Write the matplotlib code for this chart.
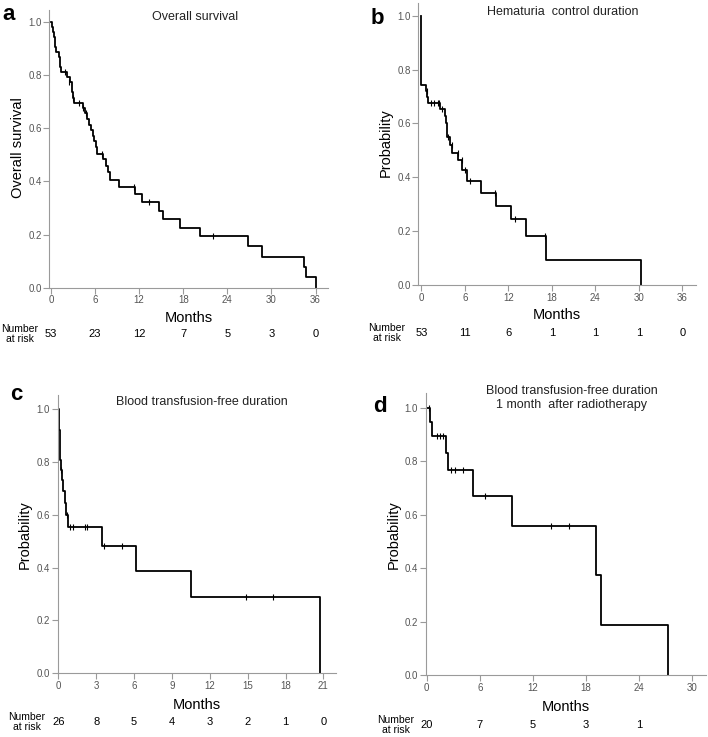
import matplotlib
matplotlib.use("Agg")
import matplotlib.pyplot as plt
import matplotlib.transforms as mtransforms

plt.rcParams["font.family"] = ["Liberation Sans", "DejaVu Sans"]

W, H = 708, 737

# ---- panel a: overall survival ----
a_times = [0.2, 0.3, 0.4, 0.5, 0.6, 0.65, 1.1, 1.2, 1.25, 1.3, 2.2, 2.6, 2.8, 2.9, 3.0, 3.1,
           4.3, 4.6, 4.9, 5.2, 5.5, 5.7, 5.8, 6.1, 6.3, 7.1, 7.5, 7.8, 8.0, 9.2, 11.4, 12.4,
           14.7, 15.3, 17.6, 20.3, 26.8, 28.7, 34.4, 34.7, 36.0]
a_surv = [0.981, 0.962, 0.943, 0.925, 0.906, 0.887, 0.868, 0.849, 0.830, 0.811, 0.792, 0.773,
          0.754, 0.735, 0.715, 0.695, 0.675, 0.655, 0.634, 0.613, 0.592, 0.571, 0.550, 0.529,
          0.504, 0.482, 0.458, 0.435, 0.405, 0.380, 0.352, 0.322, 0.290, 0.258, 0.225, 0.193,
          0.155, 0.116, 0.077, 0.039, 0.0]
a_cens_t = [1.95, 2.45, 3.05, 3.75, 4.3, 4.7, 6.9, 11.3, 13.3, 22.1]
a_cens_s = [0.811, 0.773, 0.715, 0.695, 0.675, 0.655, 0.504, 0.380, 0.322, 0.193]
a_risk = [53, 23, 12, 7, 5, 3, 0]
a_ticks = [0, 6, 12, 18, 24, 30, 36]

# ---- panel b: hematuria control duration ----
b_times = [0.0, 0.7, 0.85, 0.95, 2.6, 3.3, 3.4, 3.5, 3.6, 4.0, 4.3, 5.1, 5.6, 6.3, 8.3,
           10.3, 12.4, 14.4, 17.2, 30.3]
b_surv = [0.743, 0.720, 0.698, 0.677, 0.652, 0.627, 0.601, 0.576, 0.551, 0.520, 0.490,
          0.464, 0.427, 0.387, 0.343, 0.293, 0.245, 0.183, 0.092, 0.0]
b_cens_t = [0.75, 1.4, 1.8, 2.3, 2.5, 2.8, 3.7, 4.2, 5.1, 5.6, 6.0, 6.7, 10.2, 12.9, 17.0]
b_cens_s = [0.720, 0.677, 0.677, 0.677, 0.677, 0.652, 0.551, 0.520, 0.490, 0.464, 0.427,
            0.387, 0.343, 0.245, 0.183]
b_risk = [53, 11, 6, 1, 1, 1, 0]
b_ticks = [0, 6, 12, 18, 24, 30, 36]

# ---- panel c: blood transfusion-free duration ----
c_times = [0.05, 0.08, 0.1, 0.12, 0.15, 0.2, 0.3, 0.4, 0.5, 0.6, 0.75, 3.45, 6.15, 10.55, 20.7]
c_surv = [0.962, 0.923, 0.885, 0.846, 0.808, 0.769, 0.731, 0.692, 0.645, 0.600, 0.553,
          0.484, 0.387, 0.290, 0.0]
c_cens_t = [0.22, 0.65, 0.9, 1.2, 2.1, 2.3, 3.65, 5.05, 14.9, 17.0]
c_cens_s = [0.769, 0.600, 0.553, 0.553, 0.553, 0.553, 0.484, 0.484, 0.290, 0.290]
c_risk = [26, 8, 5, 4, 3, 2, 1, 0]
c_ticks = [0, 3, 6, 9, 12, 15, 18, 21]

# ---- panel d: transfusion-free 1 month after RT ----
d_times = [0.4, 0.65, 2.15, 2.45, 5.25, 9.6, 19.1, 19.7, 27.25]
d_surv = [0.947, 0.895, 0.830, 0.767, 0.670, 0.559, 0.373, 0.187, 0.0]
d_cens_t = [0.3, 1.2, 1.5, 1.8, 2.7, 3.2, 4.1, 6.6, 14.0, 16.1]
d_cens_s = [1.0, 0.895, 0.895, 0.895, 0.767, 0.767, 0.767, 0.670, 0.559, 0.559]
d_risk = [20, 7, 5, 3, 1]
d_ticks = [0, 6, 12, 18, 24, 30]

yticks = [0.0, 0.2, 0.4, 0.6, 0.8, 1.0]

fig = plt.figure(figsize=(W / 100, H / 100), dpi=100)


def fy(py):
    return 1 - py / H


def panel(box, xlim, ylim, times, surv, ct, cs, ticks, risk, letter, letter_xy,
          title, title_xy, ylabel, ylabel_xy, months_y, risk_y, risk_label_x):
    l, t, r, b = box
    ax = fig.add_axes([l / W, fy(b), (r - l) / W, (b - t) / H])
    ax.step([0] + times, [1.0] + surv, where="post", color="black", lw=1.3)
    ax.plot(ct, cs, ls="none", marker="|", ms=5, mew=0.8, color="black")
    ax.set_xlim(*xlim)
    ax.set_ylim(*ylim)
    ax.set_xticks(ticks)
    ax.set_yticks(yticks)
    ax.set_yticklabels([f"{v:.1f}" for v in yticks])
    for side in ("top", "right"):
        ax.spines[side].set_visible(False)
    for side in ("left", "bottom"):
        ax.spines[side].set_color("#9a9a9a")
        ax.spines[side].set_linewidth(0.8)
    ax.tick_params(axis="both", colors="#9a9a9a", labelcolor="#555555",
                   labelsize=7, length=4, width=0.8, pad=1.5)
    ax.patch.set_alpha(0)

    fig.text(letter_xy[0] / W, fy(letter_xy[1]), letter, fontsize=16,
             fontweight="bold", ha="center", va="center")
    fig.text(title_xy[0] / W, fy(title_xy[1]), title, fontsize=9,
             ha="center", va="center", color="#222222", linespacing=1.15)
    fig.text(ylabel_xy[0] / W, fy(ylabel_xy[1]), ylabel, fontsize=10.5,
             rotation=90, ha="center", va="center")
    cx = (l + r) / 2
    fig.text(cx / W, fy(months_y), "Months", fontsize=10.5, ha="center", va="center")
    trans = mtransforms.blended_transform_factory(ax.transData, fig.transFigure)
    for x, n in zip(ticks, risk):
        ax.text(x, fy(risk_y), str(n), transform=trans, fontsize=8,
                ha="center", va="center", clip_on=False)
    fig.text(risk_label_x / W, fy(risk_y), "Number\nat risk", fontsize=7.5,
             ha="center", va="center", linespacing=1.1)
    return ax


panel((49.5, 10, 328, 287.7), (-0.2, 37.7), (0, 1.044), a_times, a_surv,
      a_cens_t, a_cens_s, a_ticks, a_risk, "a", (9, 15),
      "Overall survival", (195, 17), "Overall survival", (18, 148), 318, 334, 20)

panel((418.4, 3, 695.7, 285), (-0.4, 37.85), (0, 1.047), b_times, b_surv,
      b_cens_t, b_cens_s, b_ticks, b_risk, "b", (377, 18),
      "Hematuria  control duration", (563, 12), "Probability", (386, 143), 315, 333, 387)

panel((57.7, 395, 336, 673.3), (-0.05, 22.0), (0, 1.054), c_times, c_surv,
      c_cens_t, c_cens_s, c_ticks, c_risk, "c", (16, 394),
      "Blood transfusion-free duration", (202, 402), "Probability", (25, 535), 705, 722, 27)

panel((425.8, 393, 705.7, 675), (-0.1, 31.5), (0, 1.056), d_times, d_surv,
      d_cens_t, d_cens_s, d_ticks, d_risk, "d", (380, 406),
      "Blood transfusion-free duration\n1 month  after radiotherapy", (572, 398),
      "Probability", (394, 535), 707, 725, 396)

fig.savefig("out.png", dpi=100)
